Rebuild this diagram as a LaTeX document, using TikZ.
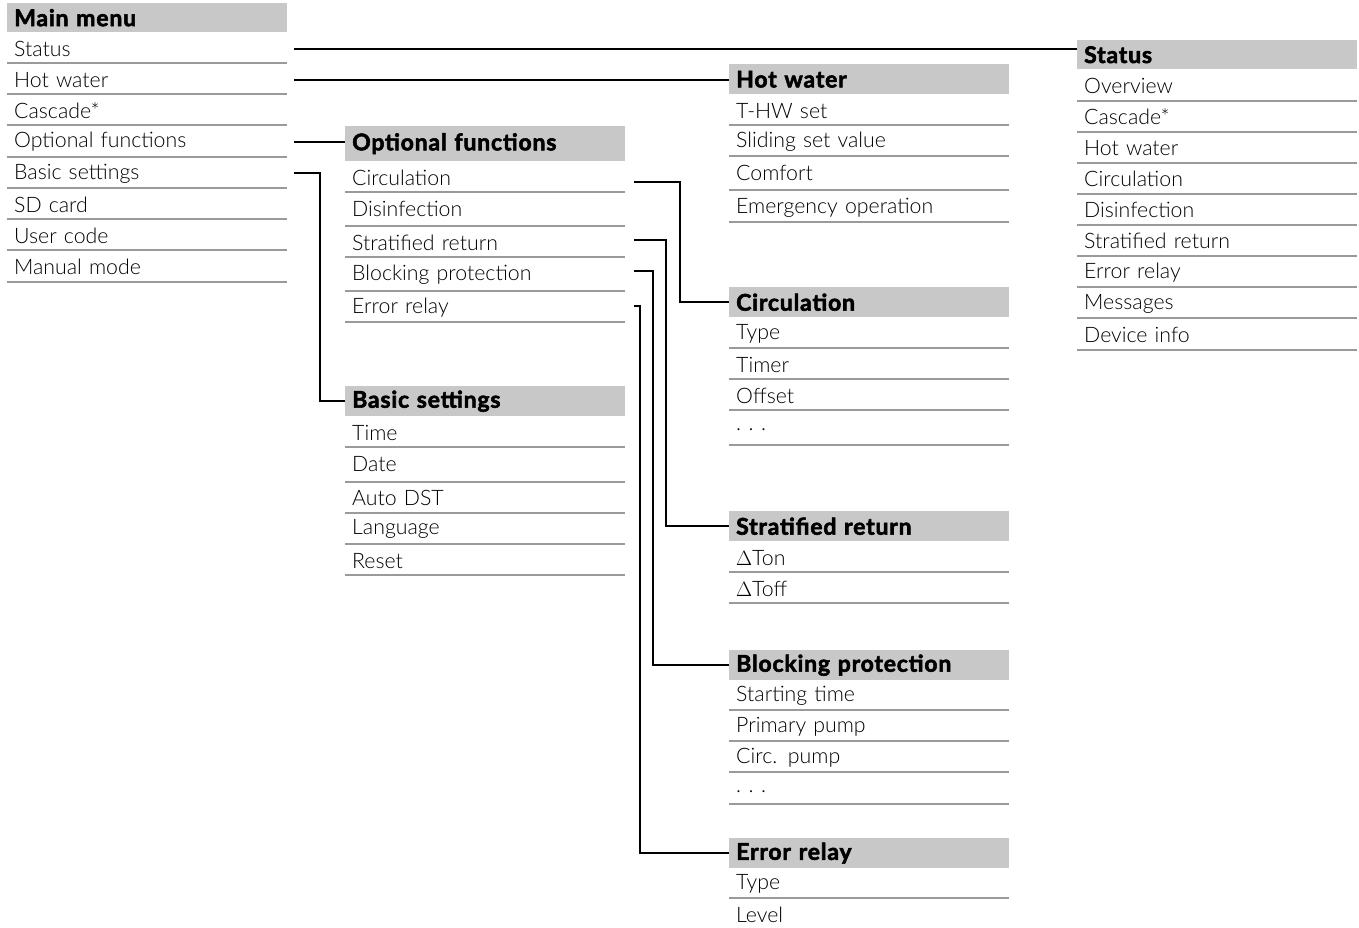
\documentclass[tikz,border=0pt]{standalone}
\usepackage{fontspec}
\setmainfont{Lato}[UprightFont={* Light},BoldFont={* Bold},BoldFeatures={FakeBold=2.4,LetterSpace=3.5}]
\definecolor{hdrgray}{HTML}{C8C8C8}
\definecolor{sepgray}{HTML}{9A9A9A}
\tikzset{
  hdr/.style={fill=hdrgray, anchor=north west, text width=266pt, inner xsep=7pt, inner ysep=0pt, align=left, font=\fontsize{23}{26}\selectfont\bfseries},
  itm/.style={anchor=west, text width=266pt, inner xsep=7pt, inner ysep=0pt, align=left, font=\fontsize{21.3}{25}\selectfont},
  sep/.style={draw=sepgray, line width=1.6pt},
  conn/.style={draw=black, line width=2pt},
}
% #1 name, #2 x, #3 y top, #4 y bottom, #5 text
\newcommand\mhead[5]{\node[hdr, minimum height=#4pt-#3pt] (#1) at (#2,#3) {#5};}
% #1 name, #2 x, #3 y text, #4 y line, #5 text
\newcommand\mrow[5]{\node[itm] (#1) at (#2,#3) {#5}; \draw[sep] (#2,#4) -- ++(280,0);}
\newcommand\mrowlast[4]{\node[itm] (#1) at (#2,#3) {#4};}
\newcommand\mdots{.\hspace{0.35em}.\hspace{0.35em}.}
\begin{document}
\begin{tikzpicture}[x=1pt,y=-1pt]
\useasboundingbox (0,0) rectangle (1359,928);
% Main menu
\mhead{hMain}{7}{3}{32}{Main menu}
\mrow{mStatus}{7}{49}{63}{Status}
\mrow{mHot}{7}{80}{94}{Hot water}
\mrow{mCasc}{7}{111}{125}{Cascade*}
\mrow{mOpt}{7}{142}{157}{Optional functions}
\mrow{mBasic}{7}{174}{188}{Basic settings}
\mrow{mSD}{7}{205}{219}{SD card}
\mrow{mUser}{7}{236}{250}{User code}
\mrow{mMan}{7}{267}{282}{Manual mode}
% Optional functions
\mhead{hOpt}{345}{126}{161}{Optional functions}
\mrow{oCirc}{345}{178}{192}{Circulation}
\mrow{oDis}{345}{209}{226}{Disinfection}
\mrow{oStrat}{345}{243}{257}{Stratified return}
\mrow{oBlock}{345}{275}{291}{Blocking protection}
\mrow{oErr}{345}{308}{322}{Error relay}
% Basic settings
\mhead{hBasic}{345}{386}{416}{Basic settings}
\mrow{bTime}{345}{433}{447}{Time}
\mrow{bDate}{345}{464}{482}{Date}
\mrow{bDST}{345}{498}{513}{Auto DST}
\mrow{bLang}{345}{529}{544}{Language}
\mrow{bReset}{345}{561}{575}{Reset}
% Hot water
\mhead{hHot}{729}{64}{94}{Hot water}
\mrow{wSet}{729}{111}{125}{T-HW set}
\mrow{wSlide}{729}{142}{156}{Sliding set value}
\mrow{wComf}{729}{173}{190}{Comfort}
\mrow{wEmer}{729}{208}{222}{Emergency operation}
% Circulation
\mhead{hCirc}{729}{287}{317}{Circulation}
\mrow{cType}{729}{334}{348}{Type}
\mrow{cTimer}{729}{365}{379}{Timer}
\mrow{cOff}{729}{396}{410}{Offset}
\mrow{cDots}{729}{430}{445}{\mdots}
% Stratified return
\mhead{hStrat}{729}{511}{541}{Stratified return}
\mrow{sOn}{729}{558}{572}{$\Delta$Ton}
\mrow{sOff}{729}{589}{603}{$\Delta$Toff}
% Blocking protection
\mhead{hBlock}{729}{650}{680}{Blocking protection}
\mrow{kStart}{729}{696}{710}{Starting time}
\mrow{kPrim}{729}{727}{741}{Primary pump}
\mrow{kCirc}{729}{758}{772}{Circ. pump}
\mrow{kDots}{729}{792}{804}{\mdots}
% Error relay
\mhead{hErr}{729}{838}{868}{Error relay}
\mrow{eType}{729}{884}{898}{Type}
\mrowlast{eLevel}{729}{915}{Level}
% Status
\mhead{hStatus}{1077}{40}{69}{Status}
\mrow{tOver}{1077}{86}{101}{Overview}
\mrow{tCasc}{1077}{117}{132}{Cascade*}
\mrow{tHot}{1077}{148}{163}{Hot water}
\mrow{tCirc}{1077}{179}{194}{Circulation}
\mrow{tDis}{1077}{210}{225}{Disinfection}
\mrow{tStrat}{1077}{241}{256}{Stratified return}
\mrow{tErr}{1077}{273}{287}{Error relay}
\mrow{tMsg}{1077}{304}{318}{Messages}
\mrow{tDev}{1077}{335}{350}{Device info}
% Connectors
\draw[conn] ([xshift=7pt]mStatus.east) -- (hStatus.west |- mStatus.east);
\draw[conn] ([xshift=7pt]mHot.east) -- (hHot.west |- mHot.east);
\draw[conn] ([xshift=7pt]mOpt.east) -- (hOpt.west |- mOpt.east);
\draw[conn] ([xshift=7pt,yshift=1pt]mBasic.east) -- ++(26,0) |- (hBasic.west);
\draw[conn] ([xshift=9pt,yshift=-4pt]oCirc.east) -- ++(46,0) |- (hCirc.west);
\draw[conn] ([xshift=9pt,yshift=3pt]oStrat.east) -- ++(32,0) |- (hStrat.west);
\draw[conn] ([xshift=9pt,yshift=4pt]oBlock.east) -- ++(19,0) |- (hBlock.west);
\draw[conn] ([xshift=9pt,yshift=2pt]oErr.east) -- ++(6,0) |- (hErr.west);
\end{tikzpicture}
\end{document}
